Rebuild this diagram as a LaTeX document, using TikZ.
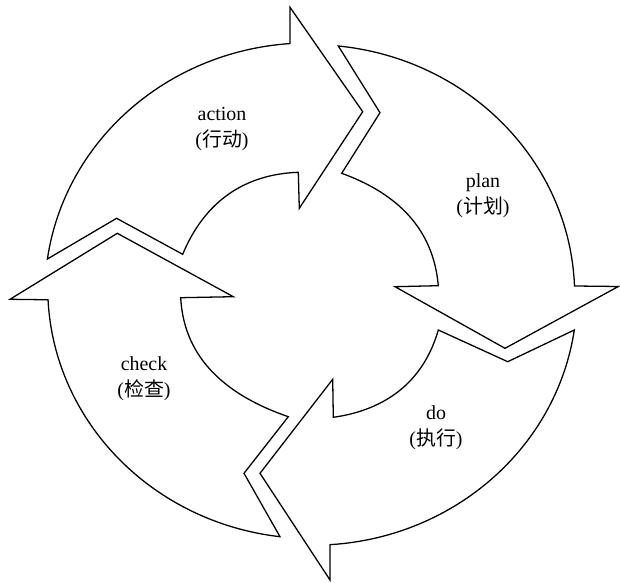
\documentclass[tikz,border=0pt]{standalone}
\usepackage{fontspec}
\setmainfont{Liberation Serif}
\newfontfamily\cjk{Noto Sans CJK SC}
\usetikzlibrary{positioning}

\begin{document}
\begin{tikzpicture}[
  x=0.03cm,y=0.03cm,
  ring/.style={draw,line width=1.1pt,line join=miter,fill=white},
  lbl/.style={align=center,inner sep=0pt,font=\fontsize{17}{22}\selectfont}
]
\useasboundingbox (0,0) rectangle (620,582);
% --- action (top left) ---
\draw[ring] (47.4,323) arc[start angle=172,end angle=94.1,x radius=264,y radius=251]
  -- (290,574.7) -- (362.7,470.3) -- (299.3,373.7) -- (298.3,409.7)
  to[out=182,in=67.5] (182.7,327.7) -- (116.6,363.7) -- cycle;
% --- plan (top right) ---
\draw[ring] (338.3,536) arc[start angle=84,end angle=2.2,x radius=264,y radius=251]
  -- (618.3,295.5) -- (505,233.7) -- (395,295.3) -- (438.3,296.3)
  to[out=95,in=-20] (341.7,408.7) -- (380,469.3) -- cycle;
% --- do (bottom right) ---
\draw[ring] (574.3,252) arc[start angle=-8.2,end angle=-86.3,x radius=264,y radius=251]
  -- (330,2) -- (260,108.7) -- (332.7,202.7) -- (333.3,164.7)
  to[out=8,in=254] (438.3,252) -- (507.7,220.3) -- cycle;
% --- check (bottom left) ---
\draw[ring] (280,45.3) arc[start angle=263.1,end angle=182.8,x radius=264,y radius=251]
  -- (10,282.7) -- (117.3,348.7) -- (233.3,285.3) -- (180.7,284.3)
  to[out=-87,in=161] (288.3,165.3) -- (244,108.7) -- cycle;
% --- labels ---
\node[lbl](action) at(222,453){action\\({\cjk 行动})};
\node[lbl](plan)   at(483,386){plan\\({\cjk 计划})};
\node[lbl](do)     at(436,154){do\\({\cjk 执行})};
\node[lbl](check)  at(144,203){check\\({\cjk 检查})};
\end{tikzpicture}
\end{document}
